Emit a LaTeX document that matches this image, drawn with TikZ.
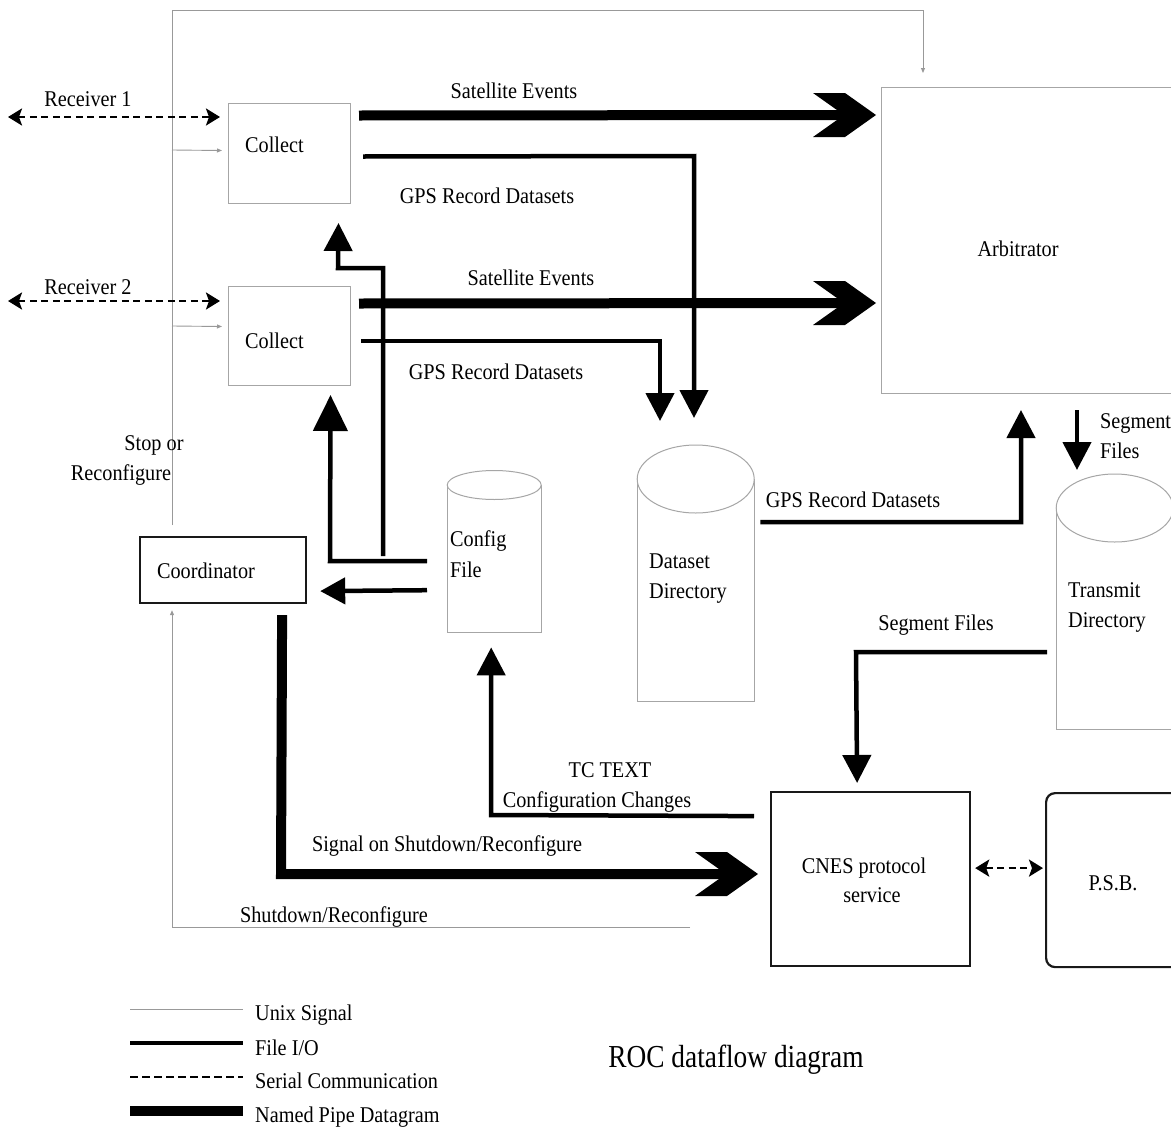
\documentclass[tikz,border=0pt]{standalone}
\usepackage{fontspec}
\setmainfont{Liberation Serif}[FakeStretch=0.9]
\newfontfamily\titlefont{Liberation Serif}[FakeStretch=0.855]
\usetikzlibrary{arrows.meta,calc}
\newcommand\pipetip[1]{\fill[black, shift={(#1)}] (-63,-22) -- (-31,-22) -- (0,0) -- (-31,22) -- (-63,22) -- (-32,0) -- cycle;}
\begin{document}
\begin{tikzpicture}[x=1pt,y=-1pt,
  every node/.style={font=\fontsize{22.5}{27}\selectfont, inner sep=0pt},
  unix/.style={draw=gray!80, line width=0.9pt},
  unixarr/.style={unix,-{Triangle[length=5pt,width=4pt]}},
  fio/.style={draw=black, line width=4.5pt, line join=miter},
  fioarr/.style={fio, -{Triangle[length=28pt,width=28pt]}},
  pipe/.style={draw=black, line width=10pt, line join=miter},
  serial/.style={draw=black, line width=2.5pt, dash pattern=on 7pt off 4.5pt,
    {Stealth[length=14pt,width=17pt,inset=3pt]}-{Stealth[length=14pt,width=17pt,inset=3pt]}},
  thinbox/.style={draw=gray!70, line width=1pt},
  darkbox/.style={draw=black!90, line width=2.2pt},
  lbl/.style={anchor=base},
  lbll/.style={anchor=base west},
]
\clip (0,0) rectangle (1171,1130);
\fill[white] (0,0) rectangle (1171,1130);

% ---------- boxes ----------
\node[thinbox, minimum width=122pt, minimum height=100pt, anchor=north west] (col1) at (228,103) {};
\node[thinbox, minimum width=122pt, minimum height=99pt, anchor=north west] (col2) at (228,286) {};
\node[thinbox, minimum width=330pt, minimum height=306pt, anchor=north west] (arb) at (881,87) {};
\node[darkbox, minimum width=166pt, minimum height=66pt, anchor=north west] (coord) at (139,536) {};
\node[darkbox, minimum width=199pt, minimum height=174pt, anchor=north west] (cnes) at (770,791) {};
\node[darkbox, rounded corners=9pt, minimum width=170pt, minimum height=174pt, anchor=north west] (psb) at (1045,792) {};

% ---------- cylinders ----------
\node[minimum width=94pt, minimum height=147pt, anchor=north west] (cfg) at (447,485) {};
\draw[thinbox] (cfg.north west) -- (cfg.south west) -- (cfg.south east) -- (cfg.north east);
\draw[thinbox, fill=white] (cfg.north) ellipse [x radius=47pt, y radius=14.5pt];
\node[minimum width=117pt, minimum height=222pt, anchor=north west] (ds) at (637,479) {};
\draw[thinbox] (ds.north west) -- (ds.south west) -- (ds.south east) -- (ds.north east);
\draw[thinbox, fill=white] (ds.north) ellipse [x radius=58.5pt, y radius=34pt];
\node[minimum width=117pt, minimum height=221pt, anchor=north west] (tx) at (1056,508) {};
\draw[thinbox] (tx.north west) -- (tx.south west) -- (tx.south east) -- (tx.north east);
\draw[thinbox, fill=white] (tx.north) ellipse [x radius=58.5pt, y radius=34pt];

% ---------- texts in shapes ----------
\node[lbll] (tcol1) at (245,152) {Collect};
\node[lbll] (tcol2) at (245,348) {Collect};
\node[lbl] (tarb) at (1018,256) {Arbitrator};
\node[lbl] (tcoord) at (206,578) {Coordinator};
\node[lbll] (tcfg1) at (450,546) {Config};
\node[lbll] (tcfg2) at (450,577) {File};
\node[lbll] (tds1) at (649,568) {Dataset};
\node[lbll] (tds2) at (649,598) {Directory};
\node[lbll] (ttx1) at (1068,597) {Transmit};
\node[lbll] (ttx2) at (1068,627) {Directory};
\node[lbl] (tcnes1) at (864,873) {CNES protocol};
\node[lbl] (tcnes2) at (872,902) {service};
\node[lbl] (tpsb) at (1113,890) {P.S.B.};

% ---------- unix signals ----------
\coordinate (u0) at (172,525);
\draw[unixarr] (u0) -- (172,10) -| ($(arb.north west)+(42,-14)$);
\draw[unixarr] (172,150) -- ($(col1.west)+(-6,-3)$);
\draw[unixarr] (172,326) -- ($(col2.west)+(-6,-9.5)$);
\coordinate (u1) at (690,927);
\draw[unixarr] (u1) -- (172,927) -- ($(coord.south west)+(33,6)$);
\node[lbl] (lstop1) at (154,450) {Stop or};
\node[lbl] (lstop2) at (121,480) {Reconfigure};
\node[lbl] (lshut) at (334,922) {Shutdown/Reconfigure};

% ---------- serial ----------
\coordinate (r1) at (8,117);
\coordinate (r2) at (8,301);
\draw[serial] (r1) -- ($(col1.north west)+(-8,14)$);
\draw[serial] (r2) -- ($(col2.north west)+(-8,15)$);
\draw[serial] ($(cnes.east)+(4,-11)$) -- ($(psb.west)+(-2,-12)$);
\node[lbl] (lr1) at (88,106) {Receiver 1};
\node[lbl] (lr2) at (88,294) {Receiver 2};

% ---------- named pipes ----------
\coordinate (s1) at (876,115);
\coordinate (s2) at (876,303);
\coordinate (s3) at (758,874);
\draw[pipe] ($(col1.east)+(8,-38)$) -- (850,115);
\pipetip{s1}
\draw[pipe] ($(col2.east)+(8,-32.5)$) -- (850,303);
\pipetip{s2}
\draw[pipe] ($(coord.south)+(59,11)$) -- (281,874) -- (735,874);
\pipetip{s3}
\node[lbl] (lsat1) at (514,98) {Satellite Events};
\node[lbl] (lsat2) at (531,285) {Satellite Events};
\node[lbl] (lsig) at (447,851) {Signal on Shutdown/Reconfigure};

% ---------- file I/O ----------
\draw[fioarr] ($(col1.east)+(12,3)$) -- (694,156) -- (694,418);
\draw[fioarr] ($(col2.east)+(10,5)$) -- (660,341) -- (660,421);
\draw[fioarr] (383,556) -- (383,268) -- (338,268) -- ($(col1.south)+(49,19)$);
\draw[fio, -{Triangle[length=36pt,width=34pt]}] ($(cfg.west)+(-20,2.5)$) -- (330,561) -- ($(col2.south)+(41,9)$);
\draw[fio, -{Triangle[length=25pt,width=26pt]}] ($(cfg.west)+(-20,31.5)$) -- ($(coord.east)+(13,21)$);
\draw[fioarr] ($(ds.east)+(6,-68)$) -- (1021,522) -- ($(arb.south west)+(140,16)$);
\draw[fioarr] ($(arb.south west)+(196,16)$) -- ($(tx.north west)+(21,-38)$);
\draw[fioarr] ($(tx.west)+(-9,33.5)$) -- (856,652) -- ($(cnes.north)+(-13.5,-8)$);
\draw[fioarr] ($(cnes.west)+(-16,-63)$) -- (491,815) -- ($(cfg.south)+(-3,15)$);
\node[lbl] (lgps1) at (487,203) {GPS Record Datasets};
\node[lbl] (lgps2) at (496,379) {GPS Record Datasets};
\node[lbl] (lgps3) at (853,507) {GPS Record Datasets};
\node[lbll] (lseg1) at (1100,428) {Segment};
\node[lbll] (lseg2) at (1100,458) {Files};
\node[lbl] (lseg3) at (936,630) {Segment Files};
\node[lbl] (ltc1) at (610,777) {TC TEXT};
\node[lbl] (ltc2) at (597,807) {Configuration Changes};

% ---------- legend ----------
\coordinate (g1a) at (130,1009); \coordinate (g1b) at (243,1009);
\coordinate (g2a) at (130,1043); \coordinate (g2b) at (243,1043);
\coordinate (g3a) at (130,1077); \coordinate (g3b) at (243,1077);
\coordinate (g4a) at (130,1111); \coordinate (g4b) at (243,1111);
\draw[unix] (g1a) -- (g1b);
\draw[fio, line width=4pt] (g2a) -- (g2b);
\draw[black, line width=2pt, dash pattern=on 8pt off 4pt] (g3a) -- (g3b);
\draw[pipe] (g4a) -- (g4b);
\node[lbll] (lg1) at (255,1020) {Unix Signal};
\node[lbll] (lg2) at (255,1055) {File I/O};
\node[lbll] (lg3) at (255,1088) {Serial Communication};
\node[lbll] (lg4) at (255,1122) {Named Pipe Datagram};
\node[lbl, font=\titlefont\fontsize{32}{38}\selectfont] (title) at (736,1067) {ROC dataflow diagram};
\end{tikzpicture}
\end{document}
